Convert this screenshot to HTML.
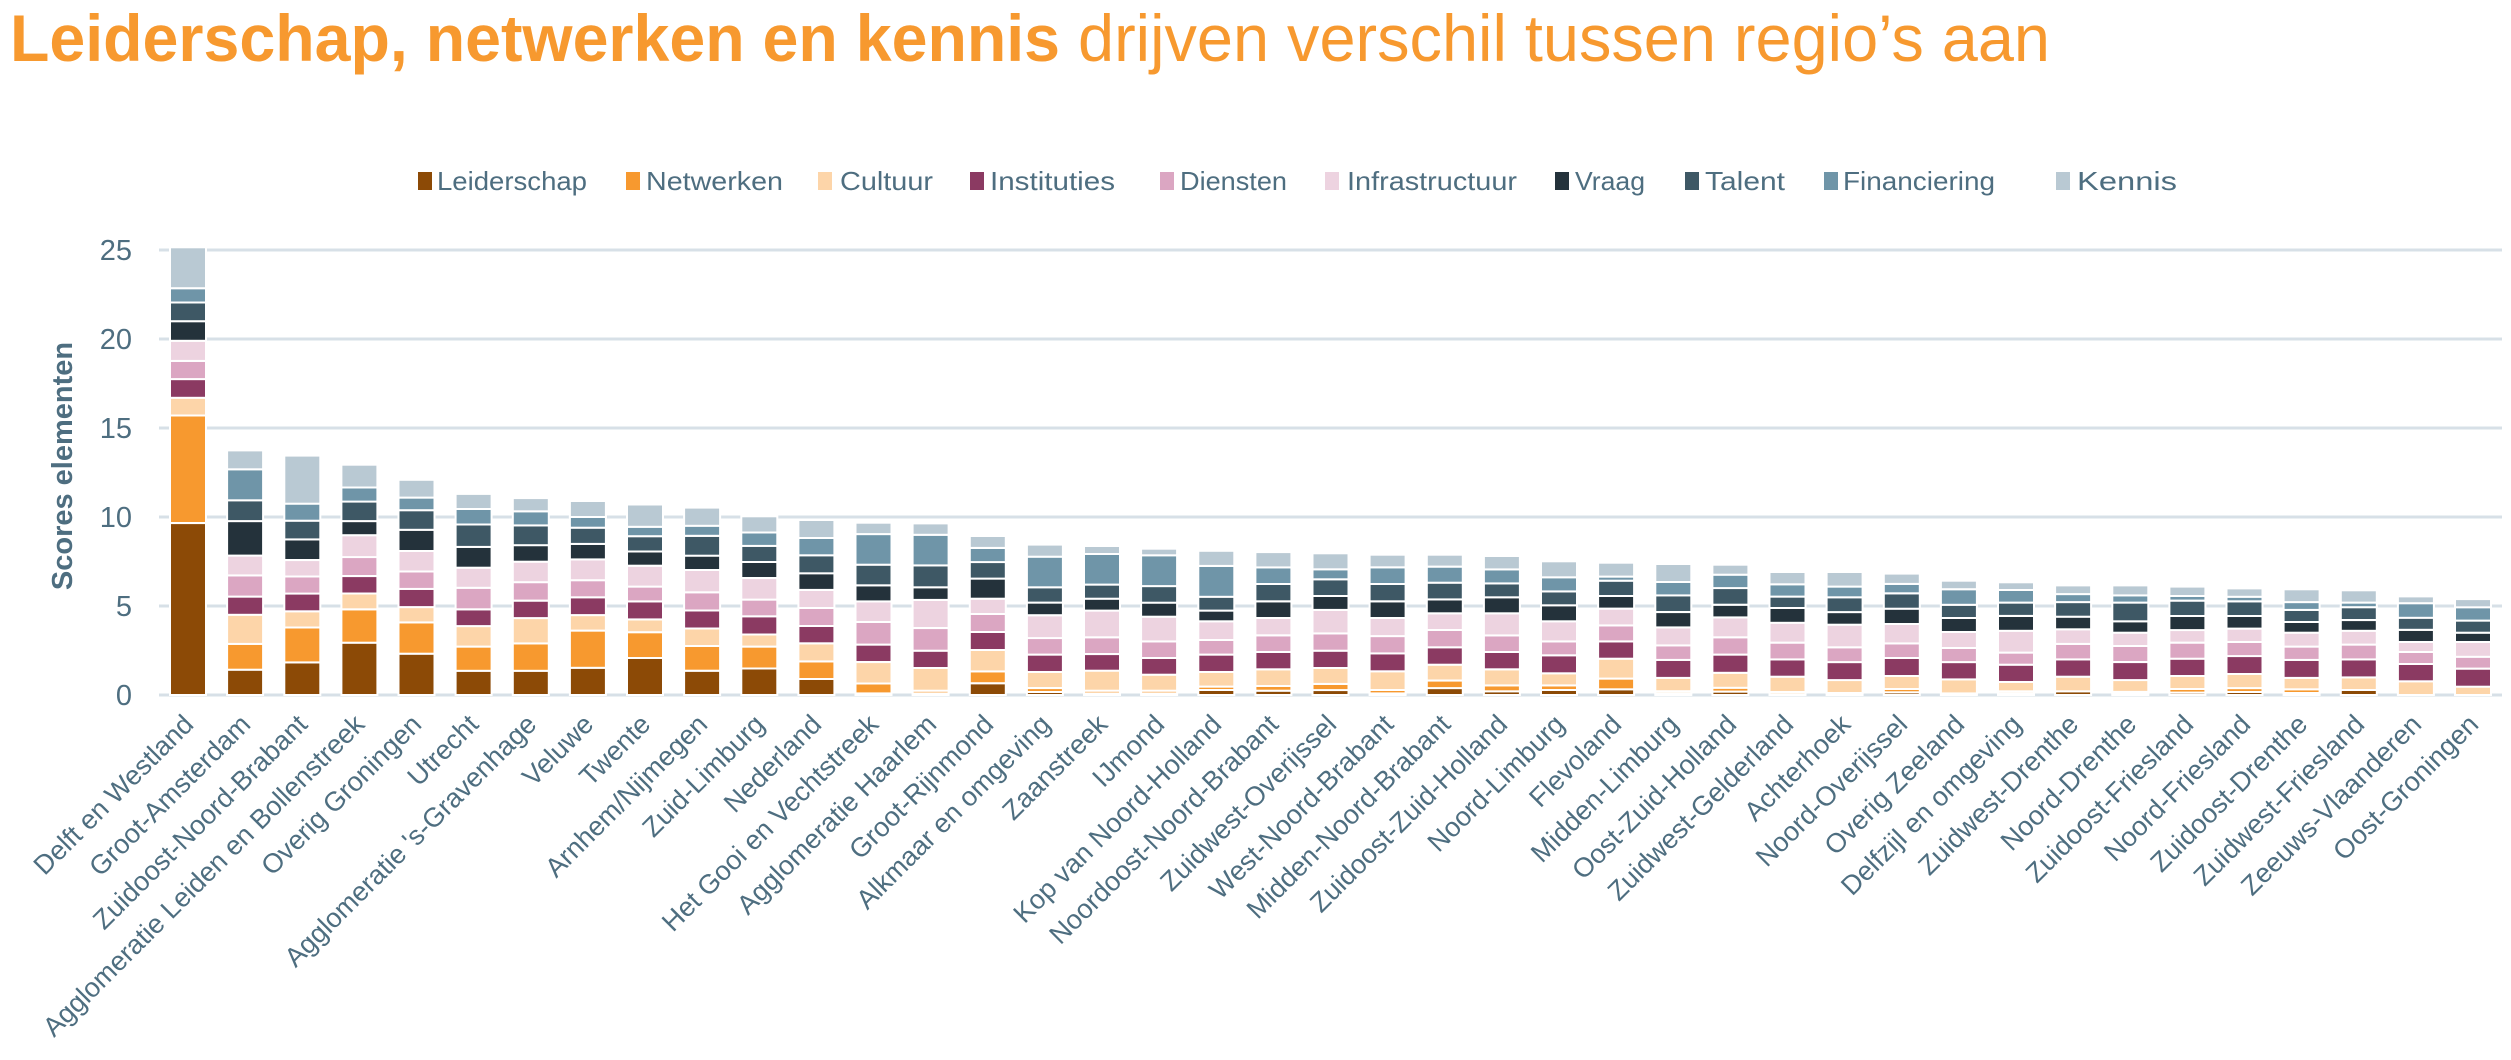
<!DOCTYPE html>
<html><head><meta charset="utf-8"><style>
html,body{margin:0;padding:0;background:#fff;}
svg{display:block;font-family:"Liberation Sans",sans-serif;}
</style></head><body>
<svg id="c" width="2511" height="1060" viewBox="0 0 2511 1060" xmlns="http://www.w3.org/2000/svg">
<text x="10" y="61" font-size="66" fill="#F7992F" font-weight="bold" textLength="1050" lengthAdjust="spacingAndGlyphs">Leiderschap, netwerken en kennis</text>
<text x="1078" y="61" font-size="66" fill="#F7992F" textLength="972" lengthAdjust="spacingAndGlyphs">drijven verschil tussen regio’s aan</text>
<g font-size="26" fill="#4E6E80">
<rect x="418" y="172" width="14" height="18" fill="#8C4A06"/><text x="437" y="190" textLength="150" lengthAdjust="spacingAndGlyphs">Leiderschap</text>
<rect x="626" y="172" width="14" height="18" fill="#F7992F"/><text x="646" y="190" textLength="137" lengthAdjust="spacingAndGlyphs">Netwerken</text>
<rect x="818" y="172" width="14" height="18" fill="#FDD5A9"/><text x="840" y="190" textLength="93" lengthAdjust="spacingAndGlyphs">Cultuur</text>
<rect x="970" y="172" width="14" height="18" fill="#8B3A62"/><text x="990" y="190" textLength="125" lengthAdjust="spacingAndGlyphs">Instituties</text>
<rect x="1160" y="172" width="14" height="18" fill="#DBA6C2"/><text x="1180" y="190" textLength="107" lengthAdjust="spacingAndGlyphs">Diensten</text>
<rect x="1325" y="172" width="14" height="18" fill="#EDD3E0"/><text x="1347" y="190" textLength="170" lengthAdjust="spacingAndGlyphs">Infrastructuur</text>
<rect x="1555" y="172" width="14" height="18" fill="#24323B"/><text x="1575" y="190" textLength="70" lengthAdjust="spacingAndGlyphs">Vraag</text>
<rect x="1685" y="172" width="14" height="18" fill="#3E5865"/><text x="1705" y="190" textLength="80" lengthAdjust="spacingAndGlyphs">Talent</text>
<rect x="1824" y="172" width="14" height="18" fill="#6F95A8"/><text x="1843" y="190" textLength="152" lengthAdjust="spacingAndGlyphs">Financiering</text>
<rect x="2056" y="172" width="14" height="18" fill="#B9C9D3"/><text x="2077" y="190" textLength="100" lengthAdjust="spacingAndGlyphs">Kennis</text>
</g>
<g stroke="#D7E0E7" stroke-width="3">
<line x1="159" y1="695" x2="2502" y2="695"/>
<line x1="159" y1="606" x2="2502" y2="606"/>
<line x1="159" y1="517" x2="2502" y2="517"/>
<line x1="159" y1="428" x2="2502" y2="428"/>
<line x1="159" y1="339" x2="2502" y2="339"/>
<line x1="159" y1="250" x2="2502" y2="250"/>
</g>
<g font-size="29" fill="#4E6E80" text-anchor="end">
<text x="132" y="705">0</text><text x="132" y="616">5</text><text x="132" y="527">10</text><text x="132" y="438">15</text><text x="132" y="349">20</text><text x="132" y="260">25</text>
</g>
<text transform="translate(72,466) rotate(-90)" text-anchor="middle" font-size="29" font-weight="bold" fill="#4E6E80">Scores elementen</text>
<g id="bars"></g>
<g font-size="27" fill="#4E6E80" text-anchor="end">
<text transform="translate(195,726) rotate(-45)">Delft en Westland</text>
<text transform="translate(252,726) rotate(-45)">Groot-Amsterdam</text>
<text transform="translate(309,726) rotate(-45)">Zuidoost-Noord-Brabant</text>
<text transform="translate(366,726) rotate(-45)">Agglomeratie Leiden en Bollenstreek</text>
<text transform="translate(423,726) rotate(-45)">Overig Groningen</text>
<text transform="translate(480,726) rotate(-45)">Utrecht</text>
<text transform="translate(538,726) rotate(-45)">Agglomeratie 's-Gravenhage</text>
<text transform="translate(595,726) rotate(-45)">Veluwe</text>
<text transform="translate(652,726) rotate(-45)">Twente</text>
<text transform="translate(709,726) rotate(-45)">Arnhem/Nijmegen</text>
<text transform="translate(766,726) rotate(-45)">Zuid-Limburg</text>
<text transform="translate(823,726) rotate(-45)">Nederland</text>
<text transform="translate(880,726) rotate(-45)">Het Gooi en Vechtstreek</text>
<text transform="translate(938,726) rotate(-45)">Agglomeratie Haarlem</text>
<text transform="translate(995,726) rotate(-45)">Groot-Rijnmond</text>
<text transform="translate(1052,726) rotate(-45)">Alkmaar en omgeving</text>
<text transform="translate(1109,726) rotate(-45)">Zaanstreek</text>
<text transform="translate(1166,726) rotate(-45)">IJmond</text>
<text transform="translate(1223,726) rotate(-45)">Kop van Noord-Holland</text>
<text transform="translate(1280,726) rotate(-45)">Noordoost-Noord-Brabant</text>
<text transform="translate(1338,726) rotate(-45)">Zuidwest-Overijssel</text>
<text transform="translate(1395,726) rotate(-45)">West-Noord-Brabant</text>
<text transform="translate(1452,726) rotate(-45)">Midden-Noord-Brabant</text>
<text transform="translate(1509,726) rotate(-45)">Zuidoost-Zuid-Holland</text>
<text transform="translate(1566,726) rotate(-45)">Noord-Limburg</text>
<text transform="translate(1623,726) rotate(-45)">Flevoland</text>
<text transform="translate(1680,726) rotate(-45)">Midden-Limburg</text>
<text transform="translate(1738,726) rotate(-45)">Oost-Zuid-Holland</text>
<text transform="translate(1795,726) rotate(-45)">Zuidwest-Gelderland</text>
<text transform="translate(1852,726) rotate(-45)">Achterhoek</text>
<text transform="translate(1909,726) rotate(-45)">Noord-Overijssel</text>
<text transform="translate(1966,726) rotate(-45)">Overig Zeeland</text>
<text transform="translate(2023,726) rotate(-45)">Delfzijl en omgeving</text>
<text transform="translate(2080,726) rotate(-45)">Zuidwest-Drenthe</text>
<text transform="translate(2138,726) rotate(-45)">Noord-Drenthe</text>
<text transform="translate(2195,726) rotate(-45)">Zuidoost-Friesland</text>
<text transform="translate(2252,726) rotate(-45)">Noord-Friesland</text>
<text transform="translate(2309,726) rotate(-45)">Zuidoost-Drenthe</text>
<text transform="translate(2366,726) rotate(-45)">Zuidwest-Friesland</text>
<text transform="translate(2423,726) rotate(-45)">Zeeuws-Vlaanderen</text>
<text transform="translate(2480,726) rotate(-45)">Oost-Groningen</text>
</g>
</svg>
<script>
var cols=["#8C4A06","#F7992F","#FDD5A9","#8B3A62","#DBA6C2","#EDD3E0","#24323B","#3E5865","#6F95A8","#B9C9D3"];
var D=[
[9.66,6.04,1.0,1.05,1.02,1.13,1.1,1.05,0.8,2.3],
[1.42,1.45,1.64,1.02,1.19,1.11,1.94,1.17,1.74,1.06],
[1.83,1.96,.91,1.0,.96,.92,1.16,1.05,.96,2.7],
[2.94,1.87,.89,.98,1.07,1.23,.79,1.1,.79,1.28],
[2.32,1.76,.86,1.02,.98,1.15,1.19,1.1,.71,1.0],
[1.36,1.36,1.15,.94,1.21,1.13,1.17,1.26,.87,.85],
[1.36,1.54,1.42,.98,1.04,1.15,.93,1.11,.79,.74],
[1.53,2.09,.87,1.0,.96,1.17,.87,.91,.6,.9],
[2.08,1.45,.72,1.01,.83,1.17,.8,.86,.53,1.25],
[1.36,1.39,.99,1.01,1.02,1.25,.81,1.11,.57,1.02],
[1.49,1.23,.68,1.02,.94,1.21,.9,.91,.75,.91],
[.9,.99,1.01,.98,1.01,1.01,.94,1.01,.97,1.01],
[.09,.56,1.2,.98,1.27,1.16,.9,1.16,1.72,.64],
[.09,.15,1.28,.97,1.27,1.58,.71,1.23,1.72,.64],
[.66,.67,1.2,1.01,1.01,.86,1.13,.93,.79,.67],
[.17,.22,.9,.98,.93,1.28,.71,.86,1.72,.68],
[.09,.15,1.13,.93,.94,1.5,.67,.79,1.72,.45],
[.09,.15,.9,.94,.93,1.39,.79,.93,1.73,.37],
[.28,.19,.82,.98,.82,1.05,.6,.78,1.73,.85],
[.24,.27,.93,.98,.93,.98,.93,.98,.93,.86],
[.28,.34,.9,.97,.97,1.32,.78,.94,.56,.9],
[.09,.19,1.05,1.01,.97,1.02,.93,.98,.93,.71],
[.39,.42,.89,.98,.97,.94,.78,.94,.9,.67],
[.21,.33,.9,.98,.93,1.24,.9,.78,.79,.75],
[.28,.26,.68,1.01,.78,1.13,.9,.78,.79,.9],
[.32,.6,1.12,.97,.9,.94,.71,.86,.23,.78],
[.09,.12,.75,1.01,.82,1.01,.86,.94,.75,1.01],
[.19,.22,.84,1.02,.97,1.12,.71,.94,.75,.56],
[.05,.12,.86,.97,.94,1.12,.83,.64,.69,.69],
[.11,0,.73,1.01,.83,1.27,.71,.83,.6,.82],
[.15,.19,.73,1.01,.82,1.09,.86,.86,.53,.58],
[.09,0,.79,.97,.79,.9,.79,.74,.87,.48],
[.09,.12,.52,.97,.68,1.23,.83,.75,.71,.43],
[.21,0,.82,.97,.87,.82,.71,.82,.45,.49],
[.07,.1,.67,1.01,.9,.75,.64,1.05,.41,.56],
[.13,.21,.73,.97,.9,.71,.79,.86,.26,.53],
[.17,.22,.79,1.01,.79,.75,.71,.82,.26,.47],
[.11,.21,.64,1.01,.75,.78,.6,.68,.44,.72],
[.28,0,.71,1.01,.83,.78,.6,.72,.26,.69],
[0,0,.77,.97,.68,.56,.68,.68,.82,.38],
[0,0,.47,1.01,.67,.83,.52,.68,.75,.46]
];
var g=document.getElementById("bars"),s="";
var U=17.8,B=695;
for(var i=0;i<D.length;i++){var x=170+i*57.125,cum=0;
for(var k=0;k<10;k++){var v=D[i][k];if(v<=0)continue;
var y0=B-cum*U,y1=B-(cum+v)*U;cum+=v;
s+='<rect x="'+x.toFixed(1)+'" y="'+y1.toFixed(1)+'" width="36" height="'+(y0-y1).toFixed(1)+'" fill="'+cols[k]+'" stroke="#fff" stroke-width="2"/>';}}
g.innerHTML=s;
</script>
</body></html>
